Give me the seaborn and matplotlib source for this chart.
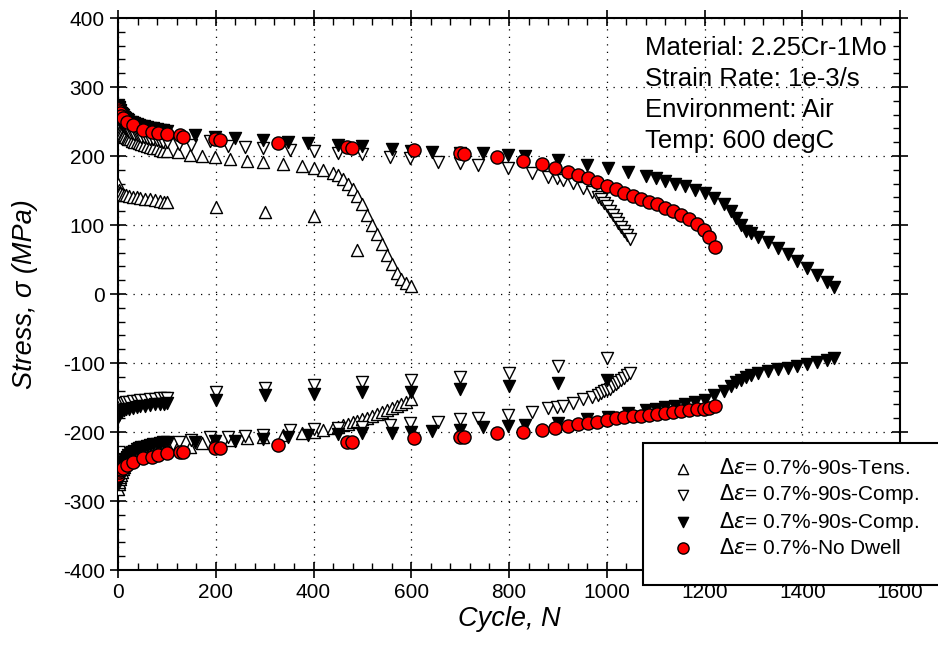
import matplotlib
matplotlib.use("Agg")
import matplotlib.pyplot as plt
from matplotlib.patches import Rectangle
from matplotlib.ticker import MultipleLocator
import pandas as pd
import seaborn as sns

# ---- data ----
early_n = [1, 2, 3, 4, 5, 6, 8, 10, 12, 15, 18, 21, 25, 29, 33, 38, 43, 48, 54, 60, 66, 72, 79, 86, 93, 100]

# tension hold (open up-triangles)
tens_n = early_n + [123, 147, 172, 198, 229, 264, 297, 338, 376, 400, 420, 440, 450, 460, 470, 480,
                    490, 500, 510, 520, 530, 540, 550, 560, 570, 580, 590, 600]
tens_max = [245, 242, 240, 238, 236, 235, 233, 231, 230, 228, 226, 225, 224, 222, 221, 220, 219, 218,
            216, 215, 213, 212, 211, 209, 208, 207,
            206, 201, 200, 199, 196, 193, 191, 188, 185, 183, 180, 176, 172, 167, 160, 152,
            142, 130, 115, 100, 87, 72, 56, 43, 31, 22, 16, 11]
tens_min = [-282, -276, -272, -268, -265, -262, -258, -254, -251, -247, -244, -241, -238, -236, -234,
            -232, -230, -228, -226, -225, -224, -223, -222, -221, -220, -219,
            -220, -221, -216, -214, -212, -209, -207, -205, -202, -200, -197, -194, -192, -190, -188,
            -186, -184, -181, -179, -177, -174, -171, -168, -165, -162, -159, -156, -152]
tens_relax_n = [1, 2, 3, 5, 8, 12, 17, 23, 30, 38, 46, 55, 65, 75, 85, 95, 100, 200, 300, 400, 490]
tens_relax = [160, 151, 147, 146, 145, 144, 143, 142, 141, 140, 139, 138, 137, 136, 135, 134, 133,
              126, 119, 113, 64]

# compression hold (open down-triangles)
comp_n = early_n + [125, 150, 188, 225, 260, 297, 352, 400, 450, 500, 556, 597, 655, 700, 736, 798,
                    847, 880, 898, 910, 931, 951, 970, 982, 988, 994, 1000, 1006, 1012, 1018, 1024,
                    1030, 1036, 1042, 1048]
comp_max = [262, 258, 255, 252, 250, 248, 246, 244, 242, 240, 238, 236, 234, 233, 232, 230, 229, 228,
            227, 226, 225, 224, 223, 222, 221, 220,
            218, 216, 222, 215, 213, 211, 209, 208, 205, 203, 199, 197, 191, 190, 187, 183, 175, 170,
            168, 165, 161, 154, 148, 141, 137, 132, 127, 121, 115, 109, 103, 97, 91, 86, 80]
comp_min = [-270, -264, -260, -257, -254, -252, -249, -246, -244, -241, -238, -236, -234, -232, -230,
            -229, -227, -226, -225, -224, -223, -222, -221, -220, -219, -218,
            -214, -212, -207, -207, -206, -204, -197, -196, -194, -192, -190, -187, -185, -181, -180,
            -175, -171, -165, -164, -162, -158, -152, -149, -146, -144, -141, -139, -137, -134, -131,
            -128, -125, -122, -118, -115]
comp_relax_n = [1, 2, 3, 5, 8, 12, 17, 23, 30, 38, 46, 55, 65, 75, 85, 95, 100, 200, 300, 400, 500,
                600, 700, 800, 900, 1000]
comp_relax = [-167, -164, -162, -160, -159, -158, -157, -156, -155, -155, -154, -153, -152, -152, -151,
              -150, -150, -142, -136, -132, -128, -125, -120, -115, -105, -92]

# compression hold, second test (filled down-triangles)
comp2_n = early_n + [158, 198, 239, 297, 348, 389, 450, 500, 560, 600, 642, 700, 747, 798, 833, 900,
                     960, 1003, 1043, 1080, 1100, 1120, 1140, 1160, 1180, 1200, 1220, 1240, 1255, 1265,
                     1275, 1285, 1295, 1310, 1330, 1350, 1370, 1390, 1410, 1430, 1450, 1465]
comp2_max = [274, 271, 269, 267, 265, 263, 261, 259, 257, 255, 253, 252, 250, 249, 248, 246, 245, 244,
             243, 242, 241, 240, 239, 238, 237, 236,
             230, 228, 226, 223, 220, 219, 216, 214, 210, 208, 206, 205, 204, 201, 200, 194, 187, 183,
             177, 171, 168, 164, 160, 156, 151, 146, 139, 130, 120, 110, 100, 92, 88, 83, 75, 67, 58,
             48, 38, 27, 17, 10]
comp2_min = [-276, -268, -263, -259, -256, -253, -249, -246, -243, -239, -236, -234, -231, -229, -227,
             -225, -223, -222, -221, -220, -219, -218, -217, -216, -215, -214,
             -214, -213, -213, -210, -207, -205, -203, -202, -201, -200, -198, -197, -193, -191, -190,
             -187, -181, -178, -172, -168, -166, -164, -162, -160, -157, -153, -147, -140, -133, -128,
             -124, -120, -117, -114, -111, -109, -107, -105, -102, -99, -96, -92]
comp2_relax_n = comp_relax_n
comp2_relax = [-178, -175, -173, -171, -170, -168, -167, -166, -165, -164, -163, -162, -161, -160, -160,
               -159, -158, -154, -147, -145, -142, -142, -137, -133, -129, -125]

# no dwell (red circles)
nd_n = [1, 2, 4, 7, 10, 18, 31, 51, 69, 82, 100, 127, 133, 198, 209, 327, 468, 478, 606, 700, 708, 775,
        829, 868, 894, 921, 941, 962, 980, 1000, 1019, 1035, 1054, 1070, 1087, 1103, 1120, 1136, 1152,
        1168, 1184, 1198, 1210, 1222]
nd_max = [268, 265, 262, 258, 255, 249, 245, 238, 235, 233, 232, 230, 228, 225, 223, 219, 213, 212, 209,
          204, 203, 199, 193, 188, 183, 177, 172, 168, 162, 157, 152, 146, 142, 138, 134, 130, 125, 120,
          115, 109, 102, 93, 82, 68]
nd_min = [-262, -258, -255, -253, -252, -248, -243, -238, -236, -234, -231, -229, -229, -223, -223, -219,
          -214, -214, -209, -207, -207, -202, -200, -197, -194, -191, -188, -187, -185, -183, -180, -178,
          -177, -177, -175, -174, -172, -171, -169, -168, -167, -166, -165, -163]

labels = [r"$\mathit{\Delta\varepsilon}$= 0.7%-90s-Tens.",
          r"$\mathit{\Delta\varepsilon}$= 0.7%-90s-Comp.",
          r"$\mathit{\Delta\varepsilon}$= 0.7%-90s-Comp.",
          r"$\mathit{\Delta\varepsilon}$= 0.7%-No Dwell"]
info_lines = ["Material: 2.25Cr-1Mo", "Strain Rate: 1e-3/s", "Environment: Air", "Temp: 600 degC"]

# ---- plot ----
sns.set_style("ticks", rc={"text.color": "black", "axes.labelcolor": "black",
                           "xtick.color": "black", "ytick.color": "black",
                           "axes.edgecolor": "black"})
plt.rcParams["font.family"] = ["Liberation Sans", "DejaVu Sans"]
plt.rcParams["mathtext.fontset"] = "dejavusans"
plt.rcParams["axes.unicode_minus"] = False

fig = plt.figure(figsize=(9.38, 6.58), dpi=100)
ax = fig.add_axes([0.1258, 0.1337, 0.8337, 0.8389])


def frame(n, smax, smin, rn=None, rs=None):
    nn = list(n) + list(n) + (list(rn) if rn else [])
    ss = list(smax) + list(smin) + (list(rs) if rs else [])
    return pd.DataFrame({"N": nn, "S": ss})


series = [
    (frame(tens_n, tens_max, tens_min, tens_relax_n, tens_relax), "^", "white", 75),
    (frame(comp_n, comp_max, comp_min, comp_relax_n, comp_relax), "v", "white", 75),
    (frame(comp2_n, comp2_max, comp2_min, comp2_relax_n, comp2_relax), "v", "black", 75),
    (frame(nd_n, nd_max, nd_min), "o", "red", 90),
]
for (df, mk, fc, sz), lab in zip(series, labels):
    sns.scatterplot(data=df, x="N", y="S", marker=mk, color=fc, edgecolor="black",
                    linewidth=1.0, s=sz, ax=ax, label=lab, legend=False, zorder=3)

ax.set_xlim(0, 1600)
ax.set_ylim(-400, 400)
ax.xaxis.set_major_locator(MultipleLocator(200))
ax.xaxis.set_minor_locator(MultipleLocator(40))
ax.yaxis.set_major_locator(MultipleLocator(100))
ax.yaxis.set_minor_locator(MultipleLocator(20))
ax.grid(True, which="major", color="black", linestyle=(0, (1, 5)), linewidth=0.9)
ax.tick_params(which="both", top=True, right=True, labelsize=15, colors="black")
ax.tick_params(which="major", direction="inout", length=12, width=1.2)
ax.tick_params(which="minor", direction="in", length=5, width=1.0)
for sp in ax.spines.values():
    sp.set_linewidth(1.5)
    sp.set_color("black")

ax.set_xlabel("Cycle, N", fontsize=19.5, fontstyle="italic", labelpad=3)
ax.set_ylabel("Stress, σ (MPa)", fontsize=19.5, fontstyle="italic", labelpad=18)

ax.text(0.674, 0.968, "\n".join(info_lines), transform=ax.transAxes, ha="left", va="top",
        fontsize=18.5, linespacing=1.37)

handles, labs = ax.get_legend_handles_labels()
if ax.get_legend() is not None:
    ax.get_legend().remove()

box = Rectangle((0.6855, 0.111), 0.33, 0.2158, transform=fig.transFigure, facecolor="white",
                edgecolor="black", linewidth=1.5, zorder=5)
fig.add_artist(box)
leg = fig.legend(handles, labs, loc="upper left", bbox_to_anchor=(0.691, 0.332), frameon=False,
                 fontsize=15, handletextpad=1.0, labelspacing=0.18, handlelength=1.5,
                 markerscale=0.85)
leg.set_zorder(10)

fig.savefig("out.png", dpi=100)
